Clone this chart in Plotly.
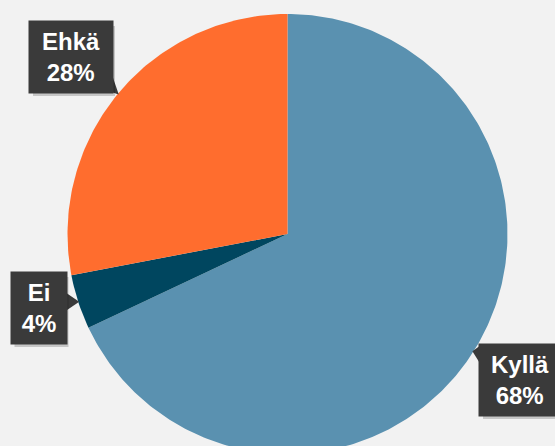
import numpy as np
import plotly.graph_objects as go

# Data
categories = ["Kyllä", "Ei", "Ehkä"]
values = [68, 4, 28]
colors = ["#5A91B0", "#00465F", "#FF6D2E"]

W, H = 555, 446
cx, cy, R = 287.5, 234.0, 220.0

# label box centres (layout, not data)
label_pos = {"Kyllä": (520, 380), "Ei": (38.5, 308), "Ehkä": (71, 57)}
box_w = {"Kyllä": 80, "Ei": 54, "Ehkä": 82}
box_h = 70

fig = go.Figure()

total = float(sum(values))
start = 0.0
mids = []
for cat, v, col in zip(categories, values, colors):
    frac = v / total
    a0, a1 = start * 2 * np.pi, (start + frac) * 2 * np.pi
    th = np.linspace(a0, a1, max(8, int(400 * frac)))
    xs = np.concatenate([[cx], cx + R * np.sin(th), [cx]])
    ys = np.concatenate([[cy], cy - R * np.cos(th), [cy]])
    fig.add_trace(go.Scatter(x=xs, y=ys, mode="lines", fill="toself",
                             fillcolor=col, line=dict(width=0, color=col),
                             hoverinfo="skip", showlegend=False))
    mids.append((start + frac / 2) * 2 * np.pi)
    start += frac

# pointers + boxes
for cat, v, m in zip(categories, values, mids):
    tx = cx + (R - 1) * np.sin(m)
    ty = cy - (R - 1) * np.cos(m)
    bx, by = label_pos[cat]
    bw = box_w[cat]
    if tx > bx + bw / 2:
        ex = bx + bw / 2 - 1
    elif tx < bx - bw / 2:
        ex = bx - bw / 2 + 1
    else:
        ex = bx
    ey = min(max(ty, by - box_h / 2 + 10), by + box_h / 2 - 10)
    fig.add_trace(go.Scatter(x=[ex, tx, ex, ex], y=[ey - 10, ty, ey + 10, ey - 10],
                             mode="lines", fill="toself", fillcolor="#3A3A3A",
                             line=dict(width=0, color="#3A3A3A"),
                             hoverinfo="skip", showlegend=False))
    fig.add_shape(type="rect", xref="x", yref="y",
                  x0=bx - bw / 2 + 3, x1=bx + bw / 2 + 3,
                  y0=by - box_h / 2 + 4, y1=by + box_h / 2 + 4,
                  fillcolor="rgba(0,0,0,0.18)", line=dict(width=0), layer="above")
    fig.add_annotation(x=bx, y=by, xref="x", yref="y",
                       text=f"<b>{cat}<br>{v}%</b>", showarrow=False,
                       width=bw, height=box_h, bgcolor="#3A3A3A",
                       font=dict(family="Arial, Liberation Sans, sans-serif",
                                 size=24, color="white"),
                       align="center", valign="middle")

fig.update_layout(
    width=W, height=H, margin=dict(l=0, r=0, t=0, b=0),
    paper_bgcolor="#F2F2F2", plot_bgcolor="#F2F2F2",
    xaxis=dict(range=[0, W], visible=False, fixedrange=True),
    yaxis=dict(range=[H, 0], visible=False, fixedrange=True),
    showlegend=False, hovermode=False,
)

fig.write_html("out.html", config={"displayModeBar": False})
